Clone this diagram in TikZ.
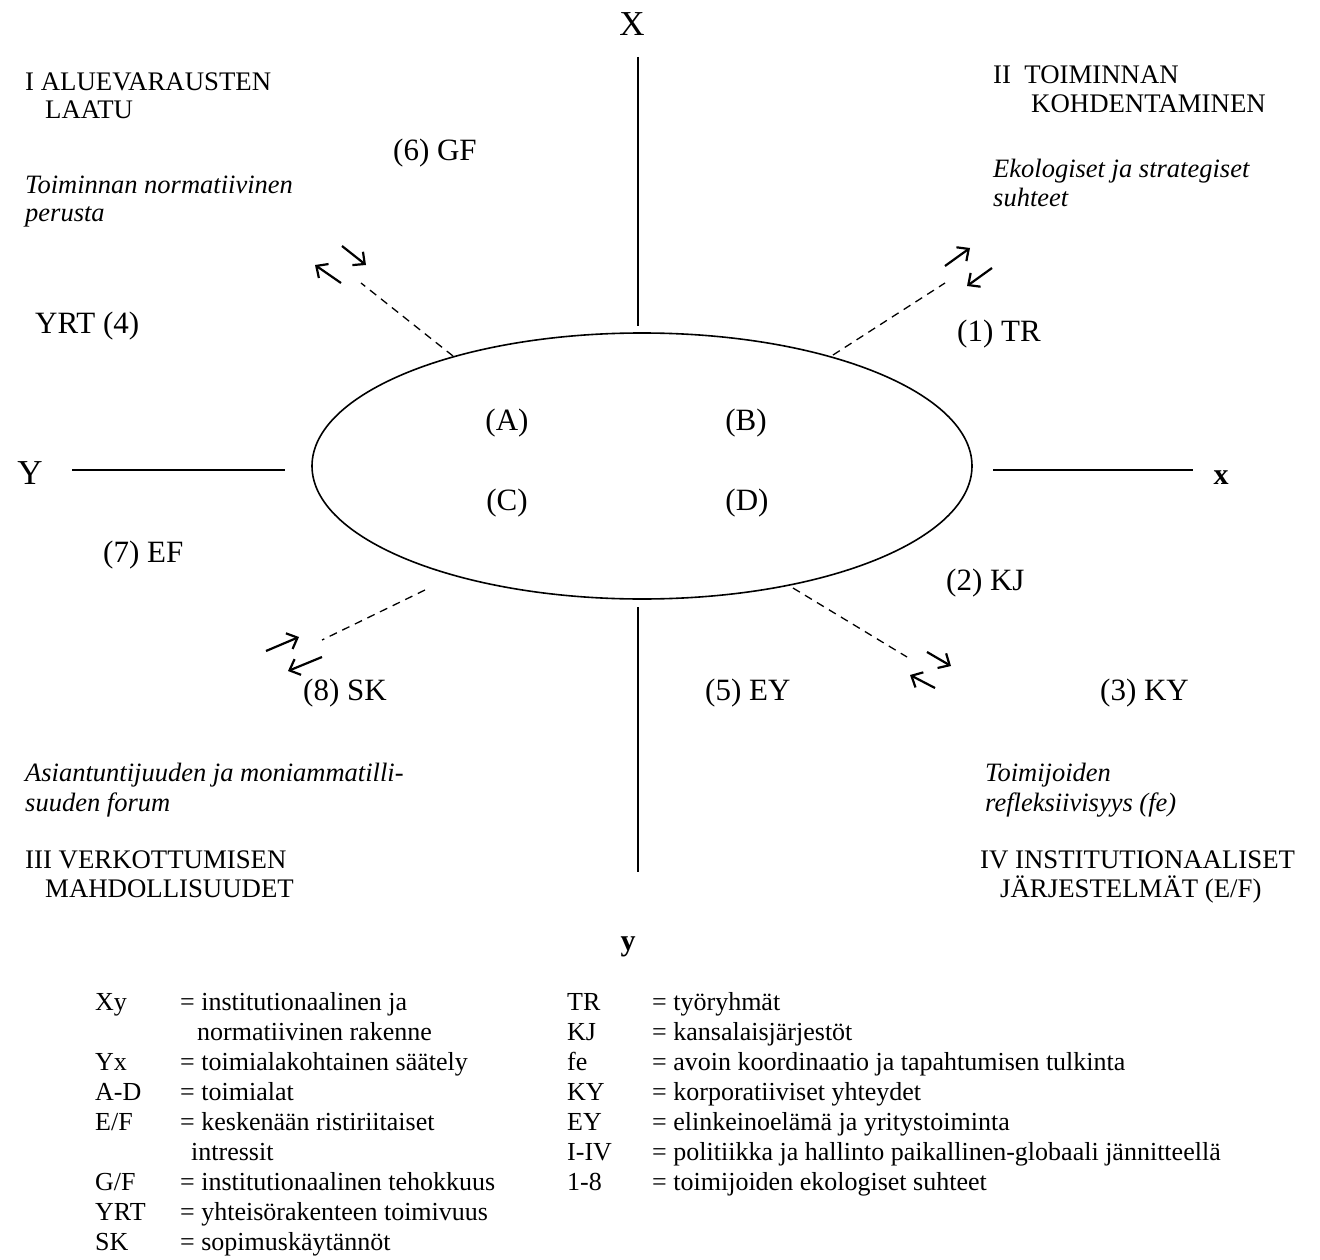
\documentclass[tikz,border=0pt]{standalone}
\usepackage{fontspec}
\setmainfont{Liberation Serif}
\usetikzlibrary{shapes.geometric,arrows.meta}
\begin{document}
\begin{tikzpicture}[x=1pt,y=-1pt,
  txt/.style={inner sep=0pt, anchor=base west, font=\fontsize{26}{30}\selectfont},
  head/.style={inner sep=0pt, anchor=base west, font=\fontsize{26.8}{30}\selectfont},
  itx/.style={inner sep=0pt, anchor=base west, font=\fontsize{26.5}{30}\selectfont\itshape},
  lab/.style={inner sep=0pt, anchor=base west, font=\fontsize{31}{36}\selectfont},
  quad/.style={inner sep=0pt, anchor=base, font=\fontsize{31}{36}\selectfont},
  axlab/.style={inner sep=0pt, anchor=base, font=\fontsize{35}{40}\selectfont},
  axlabb/.style={inner sep=0pt, anchor=base, font=\fontsize{30}{36}\selectfont\bfseries},
  axisline/.style={line width=1.6pt},
  link/.style={line width=1.3pt, dash pattern=on 8pt off 6pt},
  arr/.style={line width=2.2pt, -{Straight Barb[length=9pt,width=17pt]}},
]
\useasboundingbox (0,0) rectangle (1320,1260);
\fill[white] (0,0) rectangle (1320,1260);

% central field of action
\node[draw, ellipse, line width=1.6pt, minimum width=660pt, minimum height=266pt, inner sep=0pt] (ell) at (642,466) {};
\node[quad] (qa) at (507,430) {(A)};
\node[quad] (qb) at (746,430) {(B)};
\node[quad] (qc) at (507,510) {(C)};
\node[quad] (qd) at (747,510) {(D)};

% axes
\node[axlab] (lX) at (632,36) {X};
\node[axlab] (lY) at (30,484) {Y};
\node[axlabb] (lx) at (1221,484) {x};
\node[axlabb] (ly) at (628,950) {y};
\coordinate (Xa) at (638,57);  \coordinate (Xb) at (638,326);
\coordinate (ya) at (638,607); \coordinate (yb) at (638,872);
\coordinate (Ya) at (72,470);  \coordinate (Yb) at (285,470);
\coordinate (xa) at (993,470); \coordinate (xb) at (1193,470);
\draw[axisline] (Xa) -- (Xb);
\draw[axisline] (ya) -- (yb);
\draw[axisline] (Ya) -- (Yb);
\draw[axisline] (xa) -- (xb);

% dashed links out of the field
\coordinate (nw0) at (453,356); \coordinate (nw1) at (361,283);
\coordinate (ne0) at (833,355); \coordinate (ne1) at (945,283);
\coordinate (sw0) at (425,590); \coordinate (sw1) at (322,640);
\coordinate (se0) at (793,588); \coordinate (se1) at (907,657);
\draw[link] (nw0) -- (nw1);
\draw[link] (ne0) -- (ne1);
\draw[link] (sw0) -- (sw1);
\draw[link] (se0) -- (se1);

% two-way arrows at the link ends
\coordinate (nwa0) at (341,283); \coordinate (nwa1) at (315,265);
\coordinate (nwb0) at (342,246); \coordinate (nwb1) at (366,265);
\coordinate (nea0) at (945,266); \coordinate (nea1) at (970,248);
\coordinate (neb0) at (992,268); \coordinate (neb1) at (967,286);
\coordinate (swa0) at (266,651); \coordinate (swa1) at (299,637);
\coordinate (swb0) at (322,657); \coordinate (swb1) at (288,671);
\coordinate (sea0) at (927,652); \coordinate (sea1) at (951,666);
\coordinate (seb0) at (935,688); \coordinate (seb1) at (910,675);
\draw[arr] (nwa0) -- (nwa1);
\draw[arr] (nwb0) -- (nwb1);
\draw[arr] (nea0) -- (nea1);
\draw[arr] (neb0) -- (neb1);
\draw[arr] (swa0) -- (swa1);
\draw[arr] (swb0) -- (swb1);
\draw[arr] (sea0) -- (sea1);
\draw[arr] (seb0) -- (seb1);

% quadrant I
\node[head] (q1a) at (25,91) {I ALUEVARAUSTEN};
\node[head] (q1b) at (45,119) {LAATU};
\node[itx] (q1c) at (25,194) {Toiminnan normatiivinen};
\node[itx] (q1d) at (25,222) {perusta};
\node[lab] (n6) at (393,161) {(6) GF};
\node[lab] (n4) at (35,333) {YRT (4)};

% quadrant II
\node[head] (q2a) at (993,84) {II\ \ TOIMINNAN};
\node[head] (q2b) at (1031,113) {KOHDENTAMINEN};
\node[itx] (q2c) at (993,178) {Ekologiset ja strategiset};
\node[itx] (q2d) at (993,207) {suhteet};
\node[lab] (n1) at (957,341) {(1) TR};

% left and right of the field
\node[lab] (n7) at (103,562) {(7) EF};
\node[lab] (n2) at (946,590) {(2) KJ};

% lower row of actors
\node[lab] (n8) at (303,700) {(8) SK};
\node[lab] (n5) at (705,700) {(5) EY};
\node[lab] (n3) at (1100,700) {(3) KY};

% quadrant III
\node[itx] (q3c) at (25,781) {Asiantuntijuuden ja moniammatilli-};
\node[itx] (q3d) at (25,811) {suuden forum};
\node[head] (q3a) at (25,868) {III VERKOTTUMISEN};
\node[head] (q3b) at (45,897) {MAHDOLLISUUDET};

% quadrant IV
\node[itx] (q4c) at (985,781) {Toimijoiden};
\node[itx] (q4d) at (985,811) {refleksiivisyys (fe)};
\node[head] (q4a) at (980,868) {IV INSTITUTIONAALISET};
\node[head] (q4b) at (1000,897) {JÄRJESTELMÄT (E/F)};

% legend, left column
\node[txt] (la1) at (95,1010) {Xy};   \node[txt] (le1) at (180,1010) {= institutionaalinen ja};
                                      \node[txt] (le1b) at (197,1040) {normatiivinen rakenne};
\node[txt] (la2) at (95,1070) {Yx};   \node[txt] (le2) at (180,1070) {= toimialakohtainen säätely};
\node[txt] (la3) at (95,1100) {A-D};  \node[txt] (le3) at (180,1100) {= toimialat};
\node[txt] (la4) at (95,1130) {E/F};  \node[txt] (le4) at (180,1130) {= keskenään ristiriitaiset};
                                      \node[txt] (le4b) at (191,1160) {intressit};
\node[txt] (la5) at (95,1190) {G/F};  \node[txt] (le5) at (180,1190) {= institutionaalinen tehokkuus};
\node[txt] (la6) at (95,1220) {YRT};  \node[txt] (le6) at (180,1220) {= yhteisörakenteen toimivuus};
\node[txt] (la7) at (95,1250) {SK};   \node[txt] (le7) at (180,1250) {= sopimuskäytännöt};

% legend, right column
\node[txt] (ra1) at (567,1010) {TR};   \node[txt] (re1) at (652,1010) {= työryhmät};
\node[txt] (ra2) at (567,1040) {KJ};   \node[txt] (re2) at (652,1040) {= kansalaisjärjestöt};
\node[txt] (ra3) at (567,1070) {fe};   \node[txt] (re3) at (652,1070) {= avoin koordinaatio ja tapahtumisen tulkinta};
\node[txt] (ra4) at (567,1100) {KY};   \node[txt] (re4) at (652,1100) {= korporatiiviset yhteydet};
\node[txt] (ra5) at (567,1130) {EY};   \node[txt] (re5) at (652,1130) {= elinkeinoelämä ja yritystoiminta};
\node[txt] (ra6) at (567,1160) {I-IV}; \node[txt] (re6) at (652,1160) {= politiikka ja hallinto paikallinen-globaali jännitteellä};
\node[txt] (ra7) at (567,1190) {1-8};  \node[txt] (re7) at (652,1190) {= toimijoiden ekologiset suhteet};
\end{tikzpicture}
\end{document}
